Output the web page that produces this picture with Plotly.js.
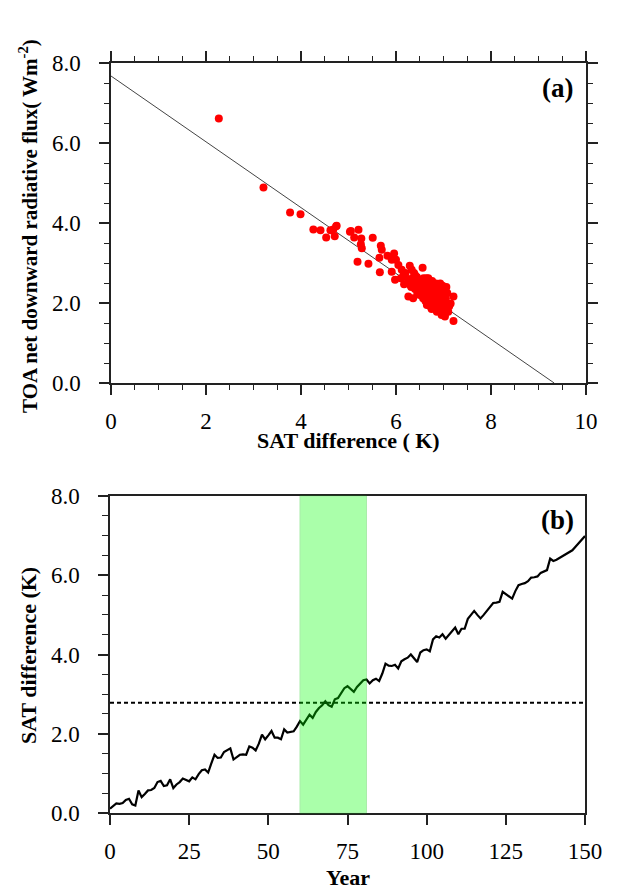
<!DOCTYPE html>
<html><head><meta charset="utf-8">
<script src="https://cdn.plot.ly/plotly-3.0.1.min.js"></script>
<style>html,body{margin:0;padding:0;background:#fff}#chart{width:619px;height:890px}</style>
</head><body><div id="chart"></div>
<script>
// Panel (a): SAT difference (K) vs TOA net downward radiative flux (W m-2)
const satA = [2.27,3.21,3.77,3.99,4.26,4.41,4.53,4.62,4.68,4.74,4.71,4.75,
  5.03,5.05,5.12,5.21,5.27,5.26,5.28,5.51,5.68,5.70,5.19,5.42,5.66,5.65,5.82,5.96,5.91,6.00,6.05,5.91,5.98,
  6.12,6.16,6.10,6.17,6.29,6.33,6.56,6.40,6.45,6.51,6.26,6.36,6.45,6.58,6.61,6.68,6.72,6.79,6.84,6.93,6.98,
  6.89,7.00,7.21,6.72,6.79,6.86,6.93,7.03,7.10,7.03,7.21,7.07,7.15,6.65,6.75,6.86,6.96,
  6.35,6.42,6.48,6.52,6.55,6.60,6.62,6.63,6.66,6.68,6.70,6.70,6.74,6.76,6.78,6.80,6.82,6.84,6.86,6.88,6.90,
  6.92,6.94,6.96,6.98,7.00,7.02,7.05,7.08,6.50,6.57,6.62,6.46,6.40,6.30,6.25,6.20,6.38,6.44,6.58,6.66,6.72,
  6.80,6.88,6.95,6.90,7.04,7.12,6.54,6.64,6.76,6.85,6.94,7.06,6.32];
const toaA = [6.61,4.89,4.26,4.22,3.84,3.82,3.64,3.82,3.84,3.92,3.67,3.93,
  3.78,3.80,3.64,3.83,3.61,3.47,3.37,3.63,3.43,3.33,3.03,2.98,2.77,3.13,3.18,3.24,3.08,3.08,2.95,2.78,2.58,
  2.83,2.70,2.62,2.47,2.93,2.83,2.88,2.70,2.53,2.41,2.16,2.12,2.24,2.37,2.20,2.62,2.45,2.28,2.49,2.49,2.43,
  2.28,2.20,2.16,2.08,1.99,1.95,1.85,1.74,1.78,1.66,1.55,1.91,1.99,1.95,1.85,1.78,1.70,
  2.62,2.45,2.38,2.55,2.30,2.42,2.52,2.28,2.35,2.18,2.30,2.40,2.22,2.35,2.12,2.40,2.20,2.05,2.30,2.12,2.38,
  2.02,2.20,2.10,1.95,2.32,2.05,2.12,2.25,2.20,2.12,2.05,2.30,2.35,2.45,2.60,2.75,2.75,2.65,2.62,2.05,1.92,
  1.88,1.82,1.78,1.90,1.88,1.92,2.45,2.62,2.55,2.45,2.42,2.40,2.40];
const fitX = [0, 9.33];
const fitY = [7.675, 0];

// Panel (b): SAT difference (K) by year
const years = Array.from({length: 151}, (_, i) => i);
const satB = [0.11,0.18,0.24,0.23,0.25,0.33,0.36,0.22,0.19,0.57,
  0.40,0.48,0.57,0.58,0.63,0.78,0.81,0.68,0.70,0.85,
  0.63,0.72,0.78,0.87,0.84,0.80,0.90,0.85,0.98,1.08,
  1.10,1.02,1.25,1.47,1.39,1.40,1.54,1.58,1.63,1.35,
  1.41,1.47,1.48,1.47,1.68,1.65,1.58,1.75,1.98,1.86,
  1.96,2.07,1.90,1.90,1.86,2.11,2.03,2.04,2.06,2.18,
  2.32,2.23,2.35,2.48,2.40,2.55,2.65,2.72,2.82,2.72,
  2.68,2.87,2.90,3.02,3.15,3.20,3.12,3.06,3.18,3.28,
  3.35,3.37,3.27,3.35,3.39,3.33,3.52,3.77,3.72,3.71,
  3.74,3.65,3.83,3.88,3.92,4.00,3.90,3.81,4.05,4.11,
  4.13,4.08,4.38,4.46,4.43,4.51,4.40,4.49,4.58,4.68,
  4.51,4.65,4.65,4.90,5.00,5.10,5.00,4.91,5.00,5.10,
  5.20,5.30,5.31,5.33,5.58,5.52,5.46,5.41,5.60,5.75,
  5.78,5.80,5.85,5.94,5.95,5.97,6.06,6.10,6.13,6.42,
  6.36,6.39,6.44,6.48,6.55,6.60,6.63,6.72,6.82,6.90,6.99];
const thresholdX = [0, 150];
const thresholdY = [2.78, 2.78];
const band = [60, 81];

const serif = 'Liberation Serif';
const axCol = '#222';
const mkFont = (size) => ({family: serif, size: size, color: '#000'});

const traces = [
  {x: fitX, y: fitY, xaxis: 'x', yaxis: 'y', mode: 'lines', line: {color: '#444', width: 1}, hoverinfo: 'skip'},
  {x: satA, y: toaA, xaxis: 'x', yaxis: 'y', mode: 'markers', marker: {color: '#ff0000', size: 8}},
  {x: thresholdX, y: thresholdY, xaxis: 'x2', yaxis: 'y2', mode: 'lines', line: {color: '#000', width: 2, dash: '4px,3px'}},
  {x: years, y: satB, xaxis: 'x2', yaxis: 'y2', mode: 'lines', line: {color: '#000', width: 2.2}}
];

function baseAxis(extra) {
  return Object.assign({
    showline: true, linecolor: axCol, linewidth: 1.5,
    ticks: 'outside', ticklen: 10, tickwidth: 1.5, tickcolor: axCol,
    showgrid: false, zeroline: false, tickfont: mkFont(23)
  }, extra);
}
const px = v => v / 619;
const py = v => 1 - v / 890;

const layout = {
  width: 619, height: 890,
  margin: {l: 0, r: 0, t: 0, b: 0},
  paper_bgcolor: '#fff', plot_bgcolor: '#fff',
  font: mkFont(23),
  showlegend: false,
  xaxis: baseAxis({domain: [px(111), px(586)], anchor: 'y', range: [0, 10], tick0: 0, dtick: 2, mirror: 'ticks',
    ticklabelstandoff: 7,
    minor: {ticks: 'outside', ticklen: 5, dtick: 0.5, tickwidth: 1.2, tickcolor: axCol}}),
  yaxis: baseAxis({domain: [py(383), py(63)], anchor: 'x', range: [0, 8], tick0: 0, dtick: 2, tickformat: '.1f', mirror: 'ticks',
    ticklabelstandoff: 14,
    minor: {ticks: 'outside', ticklen: 5, dtick: 0.5, tickwidth: 1.2, tickcolor: axCol}}),
  xaxis2: baseAxis({domain: [px(110), px(585)], anchor: 'y2', range: [0, 150], tick0: 0, dtick: 25, mirror: true,
    ticklabelstandoff: 7}),
  yaxis2: baseAxis({domain: [py(813), py(496)], anchor: 'x2', range: [0, 8], tick0: 0, dtick: 2, tickformat: '.1f', mirror: true,
    ticklabelstandoff: 14,
    minor: {ticks: 'outside', ticklen: 6, dtick: 0.5, tickwidth: 1.2, tickcolor: axCol}}),
  shapes: [
    {type: 'rect', xref: 'x2', yref: 'y2 domain', x0: band[0], x1: band[1], y0: 0, y1: 1,
     fillcolor: 'rgb(0,255,0)', opacity: 0.33, line: {width: 1, color: 'rgb(0,200,0)'}, layer: 'above'}
  ],
  annotations: [
    {text: '<b>(a)</b>', xref: 'paper', yref: 'paper', x: px(557), y: py(88), xanchor: 'center', yanchor: 'middle',
     showarrow: false, font: mkFont(27)},
    {text: '<b>(b)</b>', xref: 'paper', yref: 'paper', x: px(557), y: py(520), xanchor: 'center', yanchor: 'middle',
     showarrow: false, font: mkFont(27)},
    {text: '<b>SAT difference ( K)</b>', xref: 'paper', yref: 'paper', x: px(348), y: py(440), xanchor: 'center', yanchor: 'middle',
     showarrow: false, font: mkFont(22)},
    {text: '<b>TOA net downward radiative flux( Wm<sup>-2</sup>)</b>', xref: 'paper', yref: 'paper', x: px(28), y: py(226),
     xanchor: 'center', yanchor: 'middle', textangle: -90, showarrow: false, font: mkFont(21)},
    {text: '<b>Year</b>', xref: 'paper', yref: 'paper', x: px(348), y: py(877), xanchor: 'center', yanchor: 'middle',
     showarrow: false, font: mkFont(22), borderpad: 0},
    {text: '<b>SAT difference (K)</b>', xref: 'paper', yref: 'paper', x: px(28), y: py(656),
     xanchor: 'center', yanchor: 'middle', textangle: -90, showarrow: false, font: mkFont(22)}
  ]
};

Plotly.newPlot('chart', traces, layout, {displayModeBar: false});
</script>
</body></html>
